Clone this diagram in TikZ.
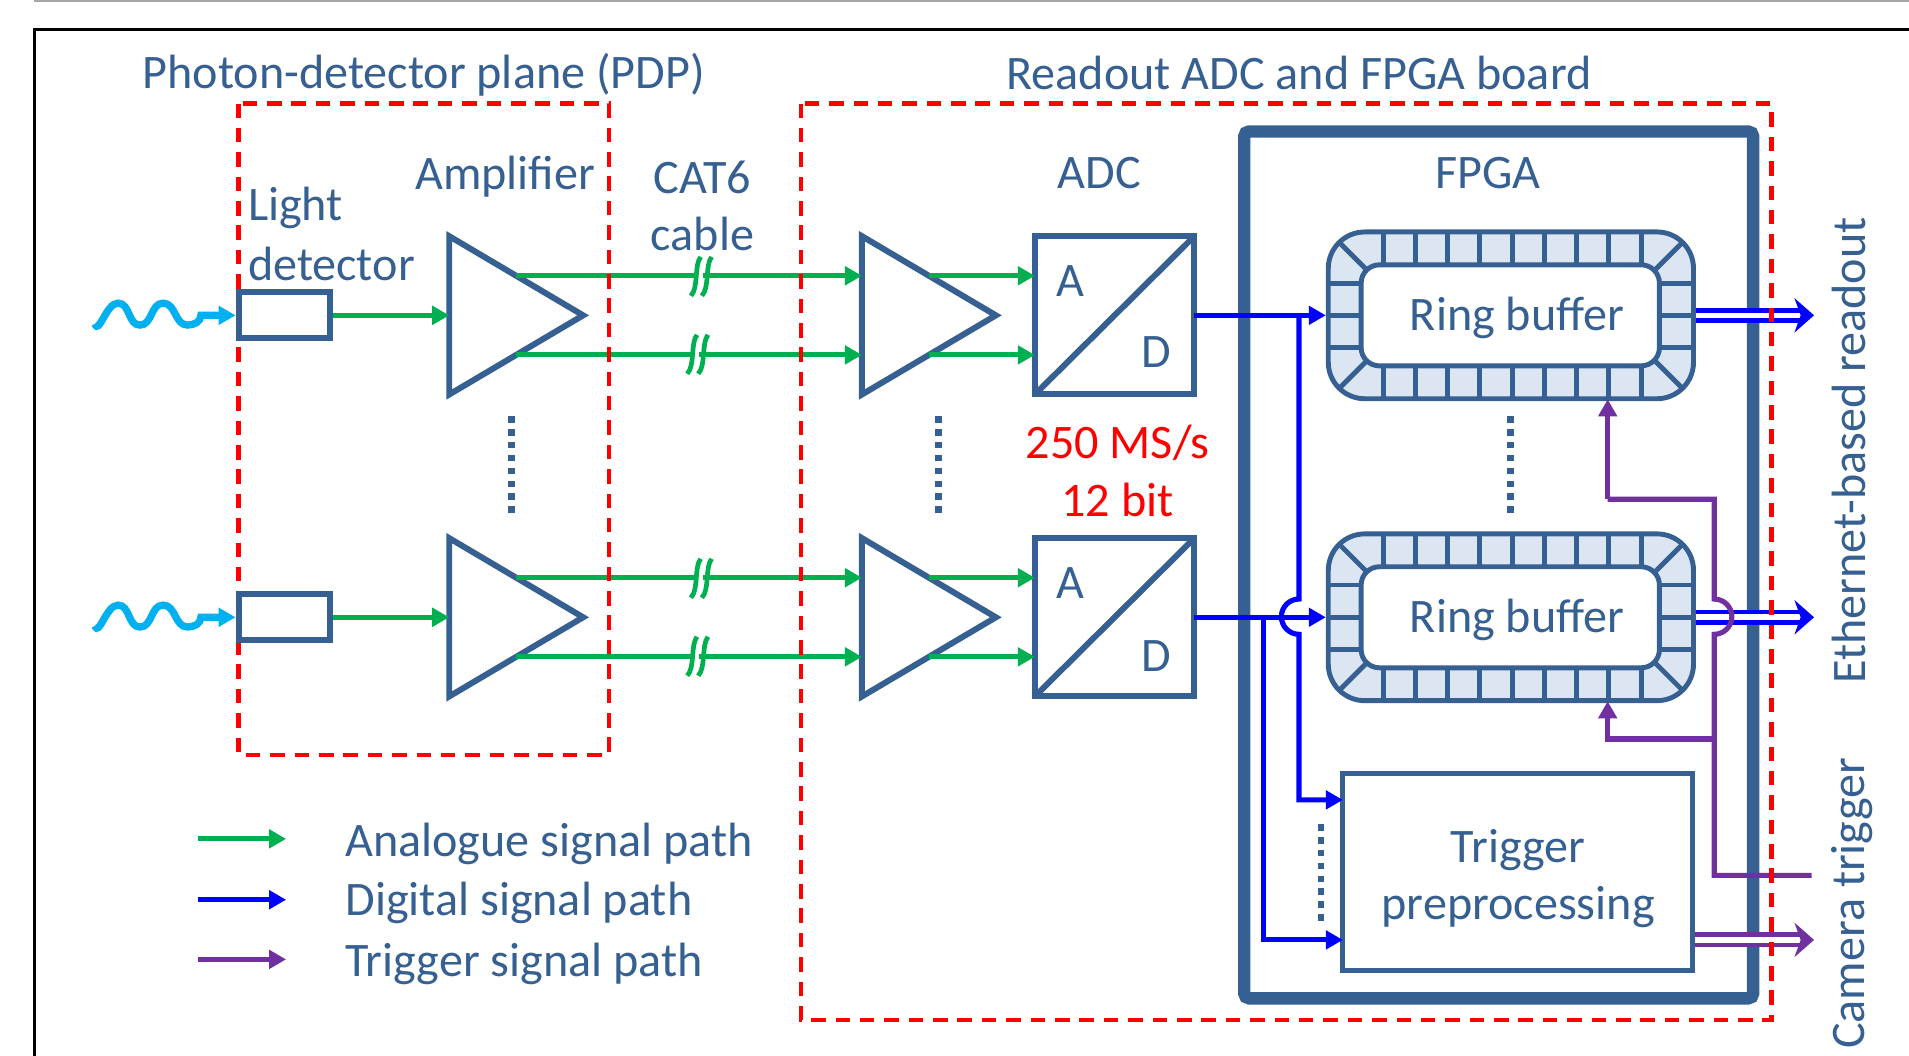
\documentclass[tikz,border=0pt]{standalone}
\usepackage{fontspec}
\setmainfont{Carlito}
\usepackage{tikz}
\usetikzlibrary{arrows.meta,shapes.geometric}
\definecolor{boxblue}{HTML}{376092}
\definecolor{ringfill}{HTML}{DCE6F2}
\definecolor{analogue}{HTML}{00B050}
\definecolor{digital}{HTML}{0000FF}
\definecolor{trigger}{HTML}{7030A0}
\definecolor{photon}{HTML}{00B0F0}
\newcommand{\cablecut}[2]{
	\draw[analogue, line width=1.1pt] (#1-9.5,#2+16) .. controls (#1-3,#2+9) and (#1-7,#2-9) .. (#1-1.5,#2-16);
	\draw[analogue, line width=1.1pt] (#1-0.5,#2+16) .. controls (#1+6,#2+9) and (#1+2,#2-9) .. (#1+7.5,#2-16);
}
\begin{document}
\begin{tikzpicture}[x=0.1mm, y=-0.1mm, >={Triangle[length=1.4mm,width=1.5mm]},
		lbl/.style={text=boxblue, font=\fontsize{11.25}{13}\selectfont, inner sep=0pt},
		redlbl/.style={text=red, font=\fontsize{11.25}{13}\selectfont, inner sep=0pt},
		region/.style={draw=red, line width=1pt, dash pattern=on 3.4pt off 2.3pt},
		boxline/.style={draw=boxblue, line width=1.4pt},
		ringline/.style={draw=boxblue, line width=1.15pt},
		detector/.style={boxline, minimum width=7.5mm, minimum height=3.8mm, inner sep=0pt},
		amp/.style={boxline, isosceles triangle, isosceles triangle stretches, anchor=lower side, minimum width=13mm, minimum height=11mm, inner sep=0pt, outer sep=0pt},
		adc/.style={boxline, minimum width=13.1mm, minimum height=13mm, inner sep=0pt, outer sep=0pt},
		ringouter/.style={ringline, fill=ringfill, rounded corners=3mm, minimum width=30mm, minimum height=13.7mm, inner sep=0pt},
		ringinner/.style={ringline, fill=white, rounded corners=1.5mm, minimum width=24.5mm, minimum height=8.3mm, inner sep=0pt},
		analoguepath/.style={analogue, line width=1.2pt},
		digitalpath/.style={digital, line width=1.2pt},
		triggerpath/.style={trigger, line width=1.2pt},
		bus/.style={double=white, double distance=1.3pt, line width=1.1pt, -{Stealth[length=1.6mm,width=2.8mm,inset=0.5mm]}},
		dots/.style={boxblue, line width=1.6pt, dash pattern=on 1.5pt off 1.5pt}]
	\useasboundingbox (0,0) rectangle (1568,867);
	\draw[gray!70, line width=0.5pt] (28,0.5) -- (1568,0.5);
	\draw[black, line width=0.6pt] (28.5,867) -- (28.5,24) -- (1568,24);

	\node[lbl] (t_pdp) at (348,61) {Photon-detector plane (PDP)};
	\node[lbl] (t_board) at (1067,60) {Readout ADC and FPGA board};
	\node[lbl] (t_amp) at (415,145) {Amplifier};
	\node[lbl] (t_cat) at (577,146) {CAT6};
	\node[lbl] (t_cable) at (577,192) {cable};
	\node[lbl, anchor=west] (t_light) at (203,171) {Light};
	\node[lbl, anchor=west] (t_det) at (203,217) {detector};
	\node[lbl] (t_adc) at (903,142) {ADC};
	\node[lbl] (t_fpga) at (1222,142) {FPGA};
	\node[redlbl] (t_rate) at (918,364) {250 MS/s};
	\node[redlbl] (t_bit) at (918,411) {12 bit};
	\node[lbl, rotate=90] (t_eth) at (1519,370) {Ethernet-based readout};
	\node[lbl, rotate=90] (t_cam) at (1521,742) {Camera trigger};

	\draw[boxline, line width=2.9pt, rounded corners=0.4mm] (1022,108) rectangle (1440,820);

	\node[detector] (det1) at (233.5,259) {};
	\node[detector] (det2) at (233.5,507) {};
	\node[amp] (amp1) at (369,259) {};
	\node[amp] (amp2) at (369,507) {};
	\node[amp] (amp3) at (708,259) {};
	\node[amp] (amp4) at (708,507) {};
	\node[adc] (adc1) at (915.5,259) {};
	\node[adc] (adc2) at (915.5,507) {};
	\draw[boxline, shorten >=0.5pt, shorten <=0.5pt] (adc1.south west) -- (adc1.north east);
	\draw[boxline, shorten >=0.5pt, shorten <=0.5pt] (adc2.south west) -- (adc2.north east);
	\node[lbl] (a1) at (879,231) {A};
	\node[lbl] (d1) at (950,289) {D};
	\node[lbl] (a2) at (879,479) {A};
	\node[lbl] (d2) at (950,539) {D};

	\foreach \rb/\ry in {rb1/259, rb2/507} {
		\node[ringouter] (\rb) at (1241,\ry) {};
		\foreach \tx in {0,...,8} {
			\draw[ringline] ({1136+26.5*\tx},{\ry-68}) -- ({1136+26.5*\tx},{\ry-41});
			\draw[ringline] ({1136+26.5*\tx},{\ry+41}) -- ({1136+26.5*\tx},{\ry+68});
		}
		\foreach \ty in {-26.5,0,26.5} {
			\draw[ringline] (1092,{\ry+\ty}) -- (1118,{\ry+\ty});
			\draw[ringline] (1363,{\ry+\ty}) -- (1390,{\ry+\ty});
		}
		\draw[ringline] (1099,{\ry-61}) -- (1122,{\ry-38});
		\draw[ringline] (1383,{\ry-61}) -- (1360,{\ry-38});
		\draw[ringline] (1099,{\ry+61}) -- (1122,{\ry+38});
		\draw[ringline] (1383,{\ry+61}) -- (1360,{\ry+38});
		\node[ringinner] (\rb in) at (1240.5,\ry) {};
		\node[lbl] at (1246,\ry+2) {Ring buffer};
	}
	\node[ringline, minimum width=28.7mm, minimum height=16.2mm, inner sep=0pt] (prep) at (1246.5,716) {};
	\node[lbl] (t_trig) at (1247,698) {Trigger};
	\node[lbl] (t_prep) at (1247,745) {preprocessing};

	% light input
	\coordinate (w1) at (78,266);
	\coordinate (w2) at (165,259);
	\draw[photon, line width=1.7pt, ->] (w1) to[out=-70, in=180] (97,249) to[out=0, in=180] (115,267) to[out=0, in=180] (134,249) to[out=0, in=180] (154,267) to[out=0, in=-90] (w2) -- (det1.west);
	\coordinate (w3) at (78,514);
	\coordinate (w4) at (165,507);
	\draw[photon, line width=1.7pt, ->] (w3) to[out=-70, in=180] (97,497) to[out=0, in=180] (115,515) to[out=0, in=180] (134,497) to[out=0, in=180] (154,515) to[out=0, in=-90] (w4) -- (det2.west);

	% analogue paths
	\draw[analoguepath, ->] (det1) -- (amp1.lower side);
	\draw[analoguepath, ->] (det2) -- (amp2.lower side);
	\draw[analoguepath, ->] (amp1.left side) -- (amp1.left side -| amp3.lower side);
	\draw[analoguepath, ->] (amp1.right side) -- (amp1.right side -| amp3.lower side);
	\draw[analoguepath, ->] (amp2.left side) -- (amp2.left side -| amp4.lower side);
	\draw[analoguepath, ->] (amp2.right side) -- (amp2.right side -| amp4.lower side);
	\draw[analoguepath, ->] (amp3.left side) -- (amp3.left side -| adc1.west);
	\draw[analoguepath, ->] (amp3.right side) -- (amp3.right side -| adc1.west);
	\draw[analoguepath, ->] (amp4.left side) -- (amp4.left side -| adc2.west);
	\draw[analoguepath, ->] (amp4.right side) -- (amp4.right side -| adc2.west);
	\foreach \cx/\cy in {577/227, 574/291, 577/475, 574/539} {
		\fill[white] (\cx-4,\cy-5) rectangle (\cx+0.5,\cy+5);
		\cablecut{\cx}{\cy}
	}

	% digital paths
	\coordinate (j1) at (1067,259);
	\coordinate (j2) at (1038,507);
	\coordinate (t1) at (1103,657);
	\coordinate (t2) at (1103,772);
	\draw[digitalpath, ->] (adc1) -- (rb1.west);
	\draw[digitalpath, ->] (adc2) -- (rb2.west);
	\draw[digitalpath, ->] (j1) -- (1067,492) arc[start angle=-90, end angle=-270, radius=14.5] -- (1067,657) -- (t1);
	\draw[digitalpath, ->] (j2) -- (1038,772) -- (t2);

	% outputs
	\coordinate (o1) at (1490,259);
	\coordinate (o2) at (1490,507);
	\coordinate (o3) at (1490,772);
	\draw[digital, bus] (rb1.east) -- (o1);
	\draw[digital, bus] (rb2.east) -- (o2);
	\draw[trigger, bus] (prep.east |- o3) -- (o3);

	% trigger paths
	\coordinate (c1) at (1488,719);
	\coordinate (b1) at (1408,607);
	\coordinate (r1) at (1320.5,328);
	\coordinate (r2) at (1320.5,576);
	\draw[triggerpath] (c1) -- (1408,719) -- (1408,521) arc[start angle=90, end angle=-90, radius=14.5] -- (1408,410) -- (1320.5,410);
	\draw[triggerpath, ->] (1320.5,410) -- (r1);
	\draw[triggerpath, ->] (b1) -- (1320.5,607) -- (r2);

	\draw[region] (196,85) rectangle (500,620);
	\draw[region] (658,85) rectangle (1455,838);
	\node[detector] at (233.5,259) {};
	\node[detector] at (233.5,507) {};

	\draw[dots] (420,342) -- (420,424);
	\draw[dots] (771,342) -- (771,424);
	\draw[dots] (1240.5,342) -- (1240.5,424);
	\draw[dots] (1085,677) -- (1085,759);

	% legend
	\coordinate (l1) at (163,689);
	\coordinate (l2) at (235,689);
	\coordinate (l3) at (163,739);
	\coordinate (l4) at (235,739);
	\coordinate (l5) at (163,788);
	\coordinate (l6) at (235,788);
	\draw[analoguepath, ->] (l1) -- (l2);
	\draw[digitalpath, ->] (l3) -- (l4);
	\draw[triggerpath, ->] (l5) -- (l6);
	\node[lbl, anchor=west] (t_l1) at (283,693) {Analogue signal path};
	\node[lbl, anchor=west] (t_l2) at (283,742) {Digital signal path};
	\node[lbl, anchor=west] (t_l3) at (283,792) {Trigger signal path};
\end{tikzpicture}
\end{document}
